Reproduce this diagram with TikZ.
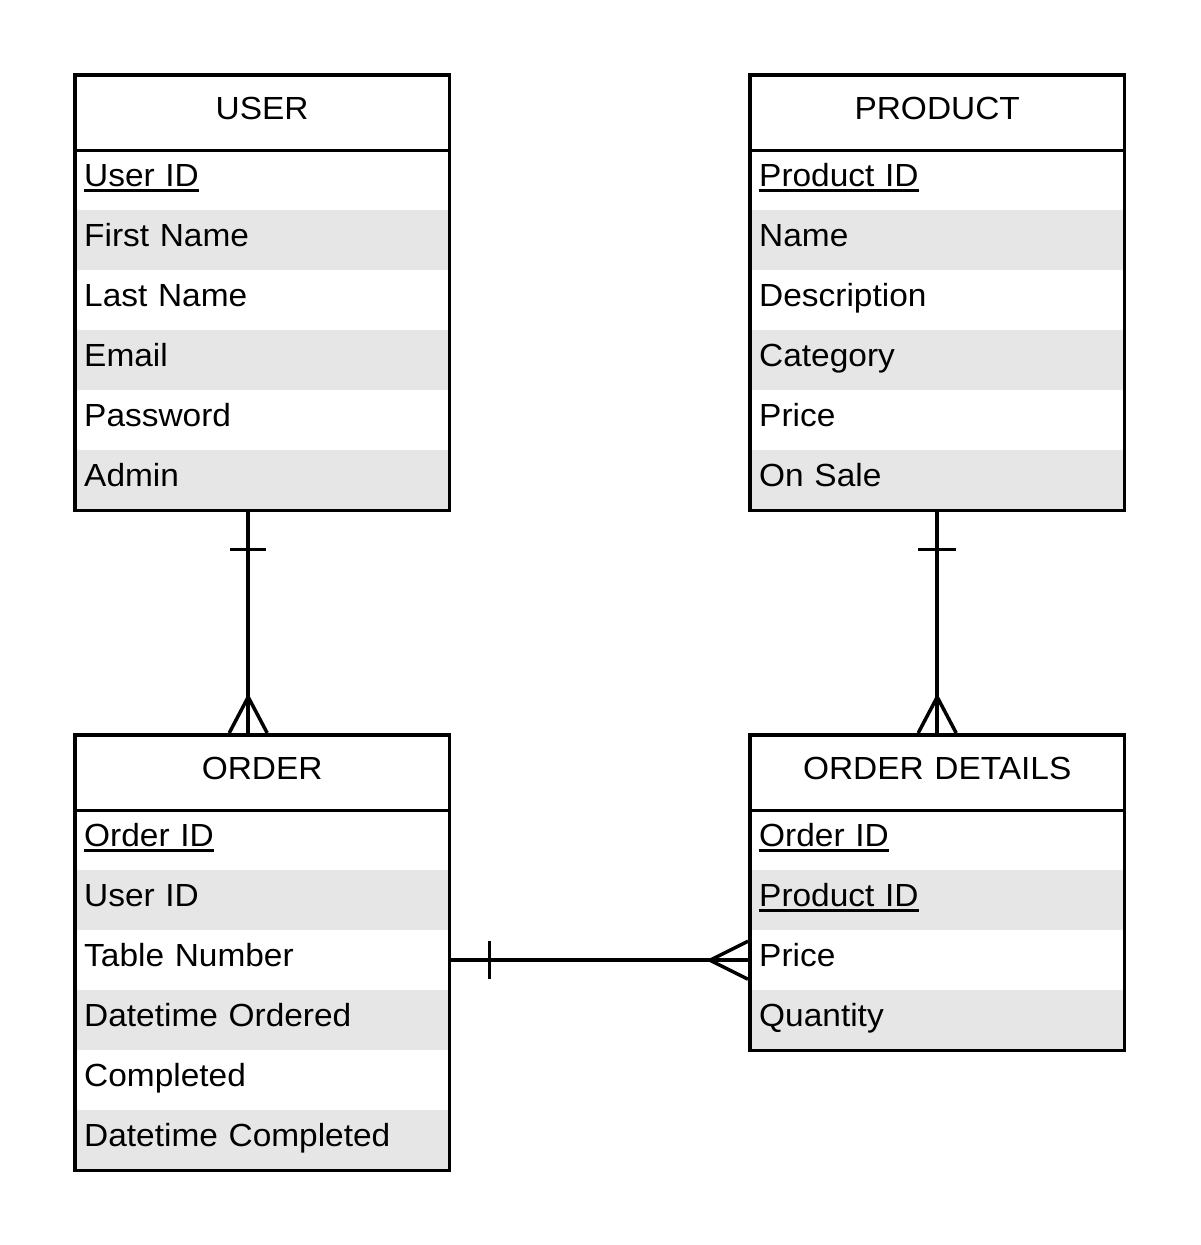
\documentclass[tikz,border=0pt]{standalone}
\usepackage{fontspec}
\setmainfont[FakeStretch=1.045]{Liberation Sans}
\definecolor{rowgray}{HTML}{E6E6E6}
\newcommand{\pkey}[1]{\setbox0\hbox{#1}\rlap{\rule[-5.5pt]{\wd0}{3pt}}\box0}

\begin{document}
\begin{tikzpicture}[
        x=1pt, y=-1pt,
        every node/.style={font=\fontsize{32}{38}\selectfont, inner sep=0pt},
        hdr/.style={anchor=north west, text width=374pt, align=center,
                    minimum height=75pt, text height=44pt, text depth=31pt},
        fld/.style={anchor=north west, text width=356pt, align=left,
                    inner xsep=9pt, minimum height=60pt,
                    text height=36pt, text depth=24pt},
        box/.style={line width=3.5pt},
        rel/.style={line width=3.5pt},
    ]
    \useasboundingbox (0,0) rectangle (1200,1245);

    % USER
    \node[hdr] (user) at (75,75) {USER};
    \foreach \t [count=\i] in {\pkey{User ID}, First Name, Last Name,
                               Email, Password, Admin}{
        \ifodd\i \def\rowfill{white}\else\def\rowfill{rowgray}\fi
        \node[fld, fill=\rowfill] (user-\i) at (75, {90+60*\i}) {\t};
    }
    \draw[box] (user.north west) rectangle (user-6.south east);
    \draw[box] (user.south west) -- (user.south east);

    % PRODUCT
    \node[hdr] (product) at (750,75) {PRODUCT};
    \foreach \t [count=\i] in {\pkey{Product ID}, Name, Description,
                               Category, Price, On Sale}{
        \ifodd\i \def\rowfill{white}\else\def\rowfill{rowgray}\fi
        \node[fld, fill=\rowfill] (product-\i) at (750, {90+60*\i}) {\t};
    }
    \draw[box] (product.north west) rectangle (product-6.south east);
    \draw[box] (product.south west) -- (product.south east);

    % ORDER
    \node[hdr] (order) at (75,735) {ORDER};
    \foreach \t [count=\i] in {\pkey{Order ID}, User ID, Table Number,
                               Datetime Ordered, Completed, Datetime Completed}{
        \ifodd\i \def\rowfill{white}\else\def\rowfill{rowgray}\fi
        \node[fld, fill=\rowfill] (order-\i) at (75, {750+60*\i}) {\t};
    }
    \draw[box] (order.north west) rectangle (order-6.south east);
    \draw[box] (order.south west) -- (order.south east);

    % ORDER DETAILS
    \node[hdr] (odet) at (750,735) {ORDER DETAILS};
    \foreach \t [count=\i] in {\pkey{Order ID}, \pkey{Product ID},
                               Price, Quantity}{
        \ifodd\i \def\rowfill{white}\else\def\rowfill{rowgray}\fi
        \node[fld, fill=\rowfill] (odet-\i) at (750, {750+60*\i}) {\t};
    }
    \draw[box] (odet.north west) rectangle (odet-4.south east);
    \draw[box] (odet.south west) -- (odet.south east);

    % user -> order
    \draw[rel] ([xshift=-14pt]user-6.south) -- ([xshift=-14pt]order.north);
    \draw[rel] ([xshift=-32pt,yshift=-39pt]user-6.south)
            -- ([xshift=4pt,yshift=-39pt]user-6.south);
    \draw[rel] ([xshift=-33pt,yshift=2pt]order.north)
            -- ([xshift=-14pt,yshift=38pt]order.north)
            -- ([xshift=5pt,yshift=2pt]order.north);

    % product -> order details
    \draw[rel] (product-6.south) -- (odet.north);
    \draw[rel] ([xshift=-19pt,yshift=-39pt]product-6.south)
            -- ([xshift=19pt,yshift=-39pt]product-6.south);
    \draw[rel] ([xshift=-19pt,yshift=2pt]odet.north) -- ([yshift=38pt]odet.north)
            -- ([xshift=19pt,yshift=2pt]odet.north);

    % order -> order details
    \draw[rel] (order-3.east) -- (odet-3.west);
    \draw[rel] ([xshift=40pt,yshift=19pt]order-3.east)
            -- ([xshift=40pt,yshift=-19pt]order-3.east);
    \draw[rel] ([xshift=-2pt,yshift=19pt]odet-3.west) -- ([xshift=-40pt]odet-3.west)
            -- ([xshift=-2pt,yshift=-19pt]odet-3.west);

\end{tikzpicture}
\end{document}
